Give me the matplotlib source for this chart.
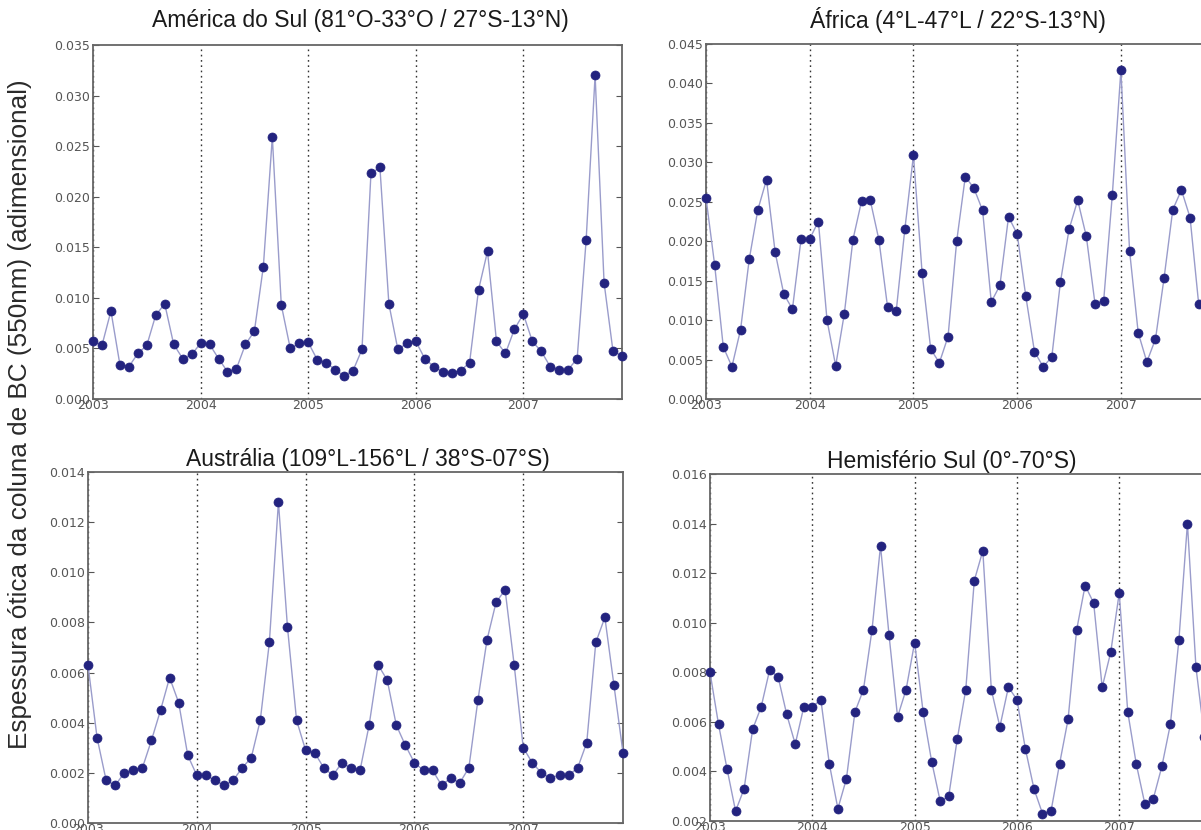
import numpy as np
import matplotlib
matplotlib.use("Agg")
import matplotlib.pyplot as plt

plt.rcParams['font.family'] = ['DejaVu Sans']

# Monthly black-carbon AOD (550 nm), Jan 2003 - Dec 2007
years = [2003, 2004, 2005, 2006, 2007]
n_months = 60

america_sul = [
    0.0057, 0.0053, 0.0087, 0.0034, 0.0032, 0.0045, 0.0053, 0.0083, 0.0094, 0.0054, 0.0040, 0.0044,
    0.0055, 0.0054, 0.0040, 0.0027, 0.0030, 0.0054, 0.0067, 0.0131, 0.0259, 0.0093, 0.0050, 0.0055,
    0.0056, 0.0039, 0.0036, 0.0029, 0.0023, 0.0028, 0.0049, 0.0223, 0.0229, 0.0094, 0.0049, 0.0055,
    0.0057, 0.0040, 0.0032, 0.0027, 0.0026, 0.0028, 0.0036, 0.0108, 0.0146, 0.0057, 0.0045, 0.0069,
    0.0084, 0.0057, 0.0047, 0.0032, 0.0029, 0.0029, 0.0040, 0.0157, 0.0320, 0.0115, 0.0047, 0.0043,
]

africa = [
    0.0255, 0.0170, 0.0066, 0.0041, 0.0088, 0.0177, 0.0240, 0.0278, 0.0186, 0.0133, 0.0114, 0.0203,
    0.0203, 0.0225, 0.0100, 0.0042, 0.0108, 0.0202, 0.0251, 0.0252, 0.0202, 0.0117, 0.0111, 0.0215,
    0.0309, 0.0160, 0.0063, 0.0046, 0.0079, 0.0200, 0.0282, 0.0267, 0.0239, 0.0123, 0.0144, 0.0231,
    0.0209, 0.0130, 0.0060, 0.0041, 0.0053, 0.0148, 0.0215, 0.0252, 0.0206, 0.0121, 0.0124, 0.0258,
    0.0417, 0.0188, 0.0084, 0.0047, 0.0076, 0.0154, 0.0240, 0.0265, 0.0230, 0.0120, 0.0113, 0.0105,
]

australia = [
    0.0063, 0.0034, 0.0017, 0.0015, 0.0020, 0.0021, 0.0022, 0.0033, 0.0045, 0.0058, 0.0048, 0.0027,
    0.0019, 0.0019, 0.0017, 0.0015, 0.0017, 0.0022, 0.0026, 0.0041, 0.0072, 0.0128, 0.0078, 0.0041,
    0.0029, 0.0028, 0.0022, 0.0019, 0.0024, 0.0022, 0.0021, 0.0039, 0.0063, 0.0057, 0.0039, 0.0031,
    0.0024, 0.0021, 0.0021, 0.0015, 0.0018, 0.0016, 0.0022, 0.0049, 0.0073, 0.0088, 0.0093, 0.0063,
    0.0030, 0.0024, 0.0020, 0.0018, 0.0019, 0.0019, 0.0022, 0.0032, 0.0072, 0.0082, 0.0055, 0.0028,
]

hemisferio_sul = [
    0.0080, 0.0059, 0.0041, 0.0024, 0.0033, 0.0057, 0.0066, 0.0081, 0.0078, 0.0063, 0.0051, 0.0066,
    0.0066, 0.0069, 0.0043, 0.0025, 0.0037, 0.0064, 0.0073, 0.0097, 0.0131, 0.0095, 0.0062, 0.0073,
    0.0092, 0.0064, 0.0044, 0.0028, 0.0030, 0.0053, 0.0073, 0.0117, 0.0129, 0.0073, 0.0058, 0.0074,
    0.0069, 0.0049, 0.0033, 0.0023, 0.0024, 0.0043, 0.0061, 0.0097, 0.0115, 0.0108, 0.0074, 0.0088,
    0.0112, 0.0064, 0.0043, 0.0027, 0.0029, 0.0042, 0.0059, 0.0093, 0.0140, 0.0082, 0.0054, 0.0040,
]

titles = [
    "América do Sul (81°O-33°O / 27°S-13°N)",
    "África (4°L-47°L / 22°S-13°N)",
    "Austrália (109°L-156°L / 38°S-07°S)",
    "Hemisfério Sul (0°-70°S)",
]
ylims = [(0.0, 0.035), (0.0, 0.045), (0.0, 0.014), (0.002, 0.016)]
ysteps = [0.005, 0.005, 0.002, 0.002]
series = [america_sul, africa, australia, hemisferio_sul]

W, H = 1201, 830
fig = plt.figure(figsize=(W / 100, H / 100), dpi=100)

# axes boxes in pixels: left, top, right, bottom
boxes = [
    (93, 45, 622, 399),
    (706, 44, 1216, 399),
    (88, 472, 623, 823),
    (710, 474, 1213, 821),
]
title_pos = [(360, 20), (958, 20), (368, 459), (952, 461)]

t = years[0] + np.arange(n_months) / 12.0

for i in range(4):
    l, tp, r, b = boxes[i]
    ax = fig.add_axes([l / W, 1 - b / H, (r - l) / W, (b - tp) / H])
    ax.plot(t, series[i], '-', color='#9a9ccb', lw=1.0, zorder=3, clip_on=False)
    ax.plot(t, series[i], 'o', color='#23237f', ms=6.5, mec='#23237f', mew=0.5,
            zorder=4, clip_on=False)
    ax.set_xlim(t[0], t[-1])
    lo, hi = ylims[i]
    ax.set_ylim(lo, hi)
    ax.set_yticks(np.round(np.arange(lo, hi + 1e-9, ysteps[i]), 4))
    ax.yaxis.set_major_formatter(matplotlib.ticker.FormatStrFormatter('%.3f'))
    ax.set_xticks(years)
    ax.set_xticklabels([str(y) for y in years])
    ax.xaxis.grid(True, linestyle=(0, (1.2, 2.6)), color='#333333', lw=1.0)
    ax.set_axisbelow(True)
    ax.tick_params(axis='y', direction='in', left=True, right=True, length=4,
                   width=0.8, color='#555555', labelsize=9, labelcolor='#555555', pad=2)
    ax.tick_params(axis='x', direction='in', bottom=False, top=False, length=0,
                   labelsize=9, labelcolor='#555555', pad=0)
    for s in ax.spines.values():
        s.set_color('#666666')
        s.set_linewidth(1.3)
    fig.text(title_pos[i][0] / W, 1 - title_pos[i][1] / H, titles[i],
             family='Liberation Sans', fontsize=16.5, color='#1a1a1a',
             ha='center', va='center')

fig.text(20 / W, 1 - 414 / H, "Espessura ótica da coluna de BC (550nm) (adimensional)",
         family='Liberation Sans', fontsize=18.8, color='#2a2a2a',
         rotation=90, ha='center', va='center')

fig.savefig("out.png", dpi=100, facecolor='white')
